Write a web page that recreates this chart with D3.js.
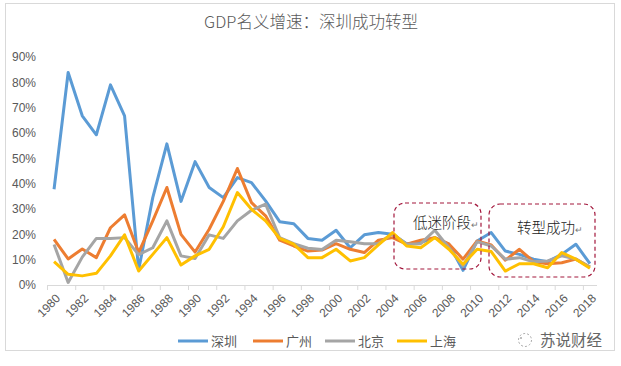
<!DOCTYPE html>
<html>
<head>
<meta charset="utf-8">
<script src="https://cdn.jsdelivr.net/npm/d3@7"></script>
<style>
  body { margin: 0; background: #fff; }
  svg { font-family: "Noto Sans CJK SC", "Noto Sans", sans-serif; }
</style>
</head>
<body>
<div id="chart"></div>
<script>
// years 1980 - 2018
var years = d3.range(1980, 2019);
var yTicks = [0, 0.1, 0.2, 0.3, 0.4, 0.5, 0.6, 0.7, 0.8, 0.9];

// nominal GDP growth, percent
var shenzhen = [37.8, 83.9, 66.8, 59.3, 79.0, 66.8, 6.0, 34.5, 55.7, 33.0,
                48.7, 38.5, 34.5, 42.4, 40.4, 33.2, 25.0, 24.2, 18.4, 17.7,
                21.6, 14.7, 19.8, 20.7, 20.0, 16.3, 16.7, 18.7, 16.0, 5.8,
                17.4, 20.7, 13.4, 12.1, 10.2, 9.2, 12.1, 16.1, 8.4];
var guangzhou = [18.0, 10.3, 14.2, 10.8, 22.6, 27.7, 12.8, 25.3, 38.5, 20.0,
                 13.0, 22.0, 33.0, 46.0, 32.5, 27.3, 17.7, 15.4, 13.4, 13.8,
                 16.3, 14.1, 12.8, 17.7, 18.7, 16.1, 17.7, 18.7, 16.2, 10.2,
                 17.4, 15.8, 9.8, 14.1, 9.2, 8.4, 8.8, 10.2, 7.1];
var beijing = [16.0, 1.0, 11.0, 18.4, 18.4, 18.7, 12.0, 14.7, 25.3, 11.5,
               10.5, 19.8, 18.4, 25.3, 29.5, 31.9, 18.7, 16.3, 14.5, 14.0,
               17.7, 17.1, 16.3, 16.3, 20.3, 16.1, 16.3, 21.6, 14.7, 7.5,
               17.1, 15.4, 10.2, 10.8, 9.2, 9.5, 11.5, 10.2, 7.1];
var shanghai = [9.2, 4.2, 3.6, 4.6, 11.5, 19.8, 5.5, 12.1, 18.7, 7.9,
                11.5, 14.1, 23.0, 36.5, 29.9, 25.3, 18.4, 16.1, 10.8, 10.8,
                14.1, 9.5, 10.8, 15.8, 20.7, 15.4, 14.7, 18.7, 14.1, 8.2,
                14.1, 13.2, 5.5, 8.4, 8.4, 6.8, 12.8, 10.2, 6.6];

var seriesNames = ["深圳", "广州", "北京", "上海"];
var seriesValues = [shenzhen, guangzhou, beijing, shanghai];
var colors = ["#5B9BD5", "#ED7D31", "#A5A5A5", "#FFC000"];

var W = 621, H = 366;
var svg = d3.select("#chart").append("svg")
    .attr("width", W).attr("height", H);

// outer frame
svg.append("rect")
    .attr("x", 5.5).attr("y", 3.5)
    .attr("width", 609).attr("height", 347)
    .attr("fill", "#fff").attr("stroke", "#d9d9d9");

svg.append("text")
    .attr("x", 311).attr("y", 28)
    .attr("text-anchor", "middle")
    .attr("font-size", 16.5)
    .attr("font-weight", 300)
    .attr("fill", "#595959")
    .text("GDP名义增速：深圳成功转型");

var x = d3.scaleBand().domain(years).range([47, 597]);
var y = d3.scaleLinear().domain([0, 0.9]).range([285, 57]);

// y axis labels (no axis line)
var yAxis = d3.axisLeft(y).tickValues(yTicks).tickFormat(d3.format(".0%")).tickSize(0).tickPadding(0);
var gy = svg.append("g").attr("transform", "translate(36,0)").call(yAxis);
gy.select(".domain").remove();
gy.selectAll("text").attr("font-size", 12).attr("fill", "#595959")
    .attr("font-family", "'Liberation Sans', sans-serif");

// x axis
var evenYears = years.filter(function (d) { return d % 2 === 0; });
var xAxis = d3.axisBottom(x).tickValues(evenYears).tickSize(0);
var gx = svg.append("g").attr("transform", "translate(0,285)").call(xAxis);
gx.select(".domain").attr("stroke", "#d9d9d9").attr("d", "M47,0.5H597");
gx.selectAll("text")
    .attr("font-size", 12).attr("fill", "#595959")
    .attr("font-family", "'Liberation Sans', sans-serif")
    .attr("text-anchor", "end")
    .attr("dy", null).attr("y", 0)
    .attr("transform", "translate(7,14) rotate(-45)");
// tick marks between category pairs
gx.selectAll(".tick-mark").data(evenYears)
  .enter().append("line")
    .attr("x1", function (d) { return x(d) + 0.5; })
    .attr("x2", function (d) { return x(d) + 0.5; })
    .attr("y1", 0).attr("y2", 5)
    .attr("stroke", "#d9d9d9");

// lines
var line = d3.line()
    .x(function (d, i) { return x(years[i]) + x.bandwidth() / 2; })
    .y(function (d) { return y(d / 100); });

seriesValues.forEach(function (vals, k) {
    svg.append("path")
        .datum(vals)
        .attr("fill", "none")
        .attr("stroke", colors[k])
        .attr("stroke-width", 3)
        .attr("stroke-linejoin", "round")
        .attr("d", line);
});

// annotation boxes (dashed, rounded)
svg.append("rect")
    .attr("x", 394).attr("y", 203).attr("width", 87).attr("height", 66)
    .attr("rx", 11).attr("fill", "none")
    .attr("stroke", "#a3183d").attr("stroke-width", 1.2).attr("stroke-dasharray", "4,3");
svg.append("rect")
    .attr("x", 489).attr("y", 204).attr("width", 106).attr("height", 73)
    .attr("rx", 11).attr("fill", "none")
    .attr("stroke", "#a3183d").attr("stroke-width", 1.2).attr("stroke-dasharray", "4,3");

[[413, 228, "低迷阶段"], [517, 233, "转型成功"]].forEach(function (t) {
    var tx = svg.append("text").attr("x", t[0]).attr("y", t[1])
        .attr("font-size", 14.5).attr("font-weight", 300).attr("fill", "#222");
    tx.append("tspan").text(t[2]);
    tx.append("tspan").attr("font-size", 9).attr("fill", "#777").text("↵");
});

// legend
var legendX = [178, 253, 325, 397];
seriesNames.forEach(function (n, k) {
    var g = svg.append("g").attr("transform", "translate(" + legendX[k] + ",341)");
    g.append("line").attr("x1", 0).attr("x2", 30).attr("y1", 0).attr("y2", 0)
        .attr("stroke", colors[k]).attr("stroke-width", 3);
    g.append("text").attr("x", 33).attr("y", 5)
        .attr("font-size", 13).attr("fill", "#595959").text(n);
});

// watermark
var logo = svg.append("g").attr("transform", "translate(525,340)");
logo.append("circle").attr("r", 6.5).attr("fill", "none")
    .attr("stroke", "#aaa").attr("stroke-width", 1).attr("stroke-dasharray", "2,2");
logo.append("circle").attr("cx", -4).attr("cy", -2).attr("r", 1).attr("fill", "#aaa");
logo.append("text").attr("x", 15).attr("y", 6)
    .attr("font-size", 15.5).attr("fill", "#666").text("苏说财经");
</script>
</body>
</html>
